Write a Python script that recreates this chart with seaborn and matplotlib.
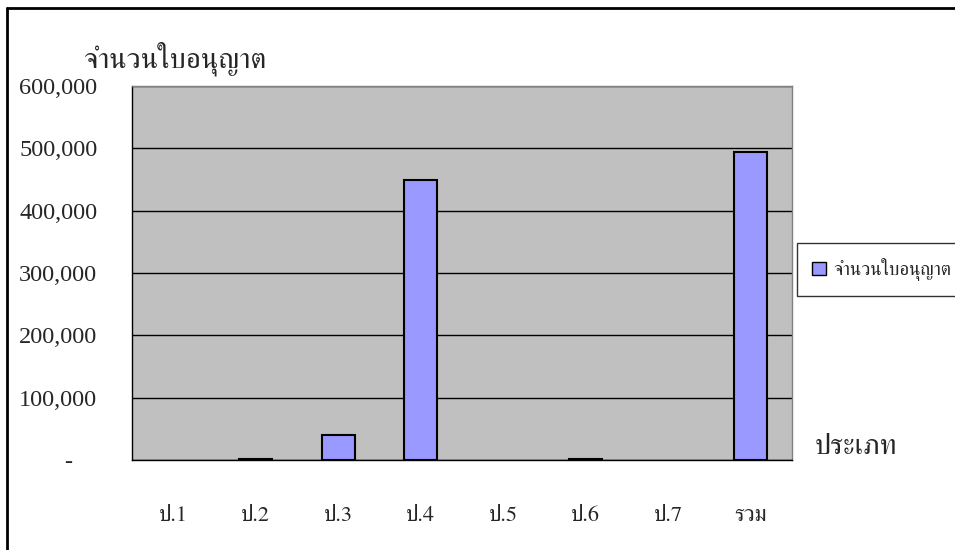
import matplotlib
matplotlib.use('Agg')
import matplotlib.pyplot as plt
from matplotlib import font_manager
from matplotlib.ft2font import FT2Font
from matplotlib.lines import Line2D
from matplotlib.patches import Patch
import seaborn as sns
import pandas as pd

# Data
categories = ['ป.1', 'ป.2', 'ป.3', 'ป.4', 'ป.5', 'ป.6', 'ป.7', 'รวม']
licences = [0, 2000, 40000, 450000, 0, 2000, 0, 494000]
y_ticks = [0, 100000, 200000, 300000, 400000, 500000, 600000]
y_tick_labels = ['-    ', '100,000', '200,000', '300,000', '400,000', '500,000', '600,000']
series_name = 'จำนวนใบอนุญาต'
y_title = 'จำนวนใบอนุญาต'
x_title = 'ประเภท'

df = pd.DataFrame({'type': categories, 'count': licences})


# find an installed font that has Thai glyphs
def thai_fonts():
    found = []
    for f in font_manager.fontManager.ttflist:
        try:
            if FT2Font(f.fname).get_char_index(ord('จ')):
                found.append(f.name)
        except Exception:
            pass
    return list(dict.fromkeys(found))


thai = thai_fonts()
serif_thai = [n for n in thai if 'Serif' in n or 'Looped' in n]
families = serif_thai + thai + ['Liberation Serif', 'DejaVu Serif']

sns.set_theme(style='white')
plt.rcParams['font.family'] = families

fig = plt.figure(figsize=(9.55, 5.5), dpi=100)
ax = fig.add_axes([0.1382, 0.1636, 0.6911, 0.68])

sns.barplot(data=df, x='type', y='count', ax=ax, color='#9999FF',
            edgecolor='black', linewidth=1.5, width=0.4, saturation=1)
# empty categories show no bar at all
for p in ax.patches:
    if p.get_height() == 0:
        p.set_visible(False)

ax.set_facecolor('#C0C0C0')
ax.set_ylim(0, 600000)
ax.set_xlim(-0.5, len(categories) - 0.5)
ax.set_yticks(y_ticks)
ax.set_yticklabels(y_tick_labels, fontsize=17.5, family=['Liberation Serif'])
ax.yaxis.grid(True, color='black', linewidth=1)
ax.set_axisbelow(True)

# Excel style: ticks between categories, labels centred
ax.set_xticks([i - 0.5 for i in range(len(categories) + 1)])
ax.set_xticklabels([])
ax.set_xticks(range(len(categories)), minor=True)
ax.set_xticklabels(categories, minor=True, fontsize=16)
ax.tick_params(axis='x', which='major', direction='out', length=7.5, width=1, color='black')
ax.tick_params(axis='x', which='minor', length=0, pad=33)
ax.tick_params(axis='y', direction='out', length=8, width=1, color='black', pad=17)
ax.set_xlabel('')
ax.set_ylabel('')

for side in ['top', 'right']:
    ax.spines[side].set_color('#808080')
    ax.spines[side].set_linewidth(1)
for side in ['left', 'bottom']:
    ax.spines[side].set_color('black')
    ax.spines[side].set_linewidth(1)

fig.text(0.087, 0.893, y_title, fontsize=21, ha='left', va='center')
fig.text(0.853, 0.187, x_title, fontsize=21, ha='left', va='center')

leg = fig.legend(handles=[Patch(facecolor='#9999FF', edgecolor='black', label=series_name)],
                 loc='center left', bbox_to_anchor=(0.835, 0.51), fontsize=13.5,
                 frameon=True, fancybox=False, handlelength=0.7, handleheight=0.7,
                 borderpad=0.8, handletextpad=0.4, borderaxespad=0)
leg.get_frame().set_edgecolor('black')
leg.get_frame().set_linewidth(1)

# chart area border (left and top edges visible)
fig.add_artist(Line2D([0.0075, 0.0075], [0.0, 0.986], color='black', linewidth=2))
fig.add_artist(Line2D([0.0075, 1.0], [0.986, 0.986], color='black', linewidth=2))

fig.savefig('out.png', dpi=100)
